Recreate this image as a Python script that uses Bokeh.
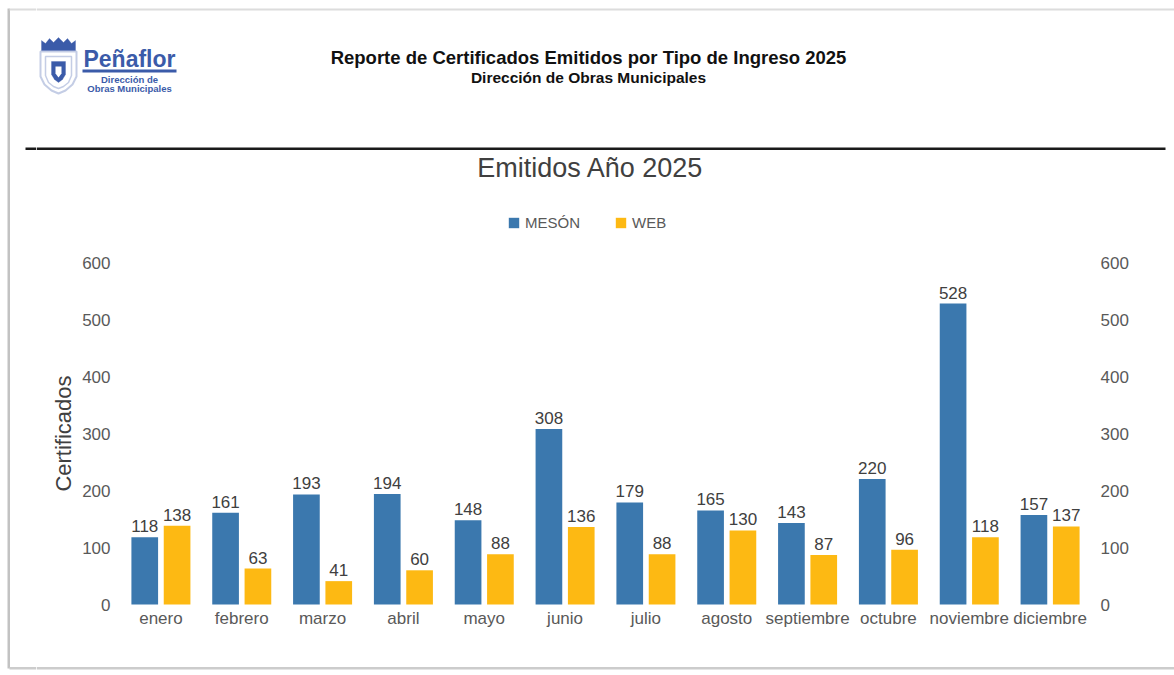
import math
from bokeh.plotting import figure
from bokeh.layouts import row
from bokeh.models import (ColumnDataSource, FactorRange, Range1d, LinearAxis, FixedTicker,
                          Legend, LegendItem, Label, BoxAnnotation, PolyAnnotation)
from bokeh.transform import dodge
from bokeh.core.properties import value
from bokeh.embed import file_html
from bokeh.resources import INLINE

# ---------------- data ----------------
months = ["enero", "febrero", "marzo", "abril", "mayo", "junio", "julio",
          "agosto", "septiembre", "octubre", "noviembre", "diciembre"]
meson = [118, 161, 193, 194, 148, 308, 179, 165, 143, 220, 528, 157]
web = [138, 63, 41, 60, 88, 136, 88, 130, 87, 96, 118, 137]
y_ticks = [0, 100, 200, 300, 400, 500, 600]
series_names = ["MESÓN", "WEB"]

header_title = "Reporte de Certificados Emitidos por Tipo de Ingreso 2025"
header_sub = "Dirección de Obras Municipales"
chart_title = "Emitidos Año 2025"
y_label = "Certificados"

BLUE = "#3b78ae"
YELLOW = "#fdb913"
LOGO = "#3b5ba9"
FONT = "Liberation Sans"

# ---------------- page geometry (pixels) ----------------
W, H = 1174, 675
STRIP = 36                       # left strip figure width
PLOT_L, PLOT_R = 120, 1090       # category band extent
PLOT_T, PLOT_B = 262, 604        # value axis: 600 at top, 0 at bottom
YMAX = 600

px_per_unit = (PLOT_B - PLOT_T) / YMAX
y_start = -(H - PLOT_B) / px_per_unit
y_end = PLOT_B / px_per_unit
pad_px = PLOT_L - STRIP
band = (PLOT_R - PLOT_L) / len(months)
range_pad = 2 * (pad_px / band) / len(months)


def blank(width, height, x0, x1, y0, y1):
    f = figure(width=width, height=height, x_range=Range1d(x0, x1),
               y_range=Range1d(y1, y0), x_axis_type=None, y_axis_type=None,
               output_backend="svg", toolbar_location=None, min_border=0,
               title=None)
    f.outline_line_color = None
    f.background_fill_color = "white"
    f.border_fill_color = "white"
    return f


# ---------------- left strip (page border) ----------------
strip = blank(STRIP, H, 0, STRIP, 0, H)
strip.quad(left=7, right=9.5, top=8, bottom=668, fill_color="#c2c2c2", line_color=None)
strip.quad(left=9, right=STRIP, top=8, bottom=10, fill_color="#dcdcdc", line_color=None)
strip.quad(left=9, right=STRIP, top=666.5, bottom=669, fill_color="#cccccc", line_color=None)
strip.quad(left=25, right=STRIP, top=147, bottom=149.5, fill_color="#1a1a1a", line_color=None)

# ---------------- main figure ----------------
src = ColumnDataSource(dict(
    months=months,
    meson=meson,
    web=web,
    meson_txt=[str(v) for v in meson],
    web_txt=[str(v) for v in web],
))

p = figure(x_range=FactorRange(factors=months, range_padding=range_pad,
                               range_padding_units="percent"),
           y_range=Range1d(y_start, y_end),
           width=W - STRIP, height=H, output_backend="svg", toolbar_location=None,
           min_border=0, title=None)
p.outline_line_color = None
p.xgrid.visible = False
p.ygrid.visible = False
p.background_fill_color = "white"
p.border_fill_color = "white"

r1 = p.vbar(x=dodge("months", -0.2, range=p.x_range), top="meson", width=0.33,
            source=src, fill_color=BLUE, line_color=None)
r2 = p.vbar(x=dodge("months", 0.2, range=p.x_range), top="web", width=0.33,
            source=src, fill_color=YELLOW, line_color=None)

for col, off in (("meson", -0.2), ("web", 0.2)):
    p.text(x=dodge("months", off, range=p.x_range), y=col,
           text=col + "_txt", source=src, text_font=value(FONT), text_font_size="17px",
           text_align="center", text_baseline="bottom", y_offset=-5,
           text_color="#404040")


def style_axis(ax):
    ax.axis_line_color = None
    ax.major_tick_line_color = None
    ax.minor_tick_line_color = None
    ax.major_tick_out = 0
    ax.major_tick_in = 0
    ax.minor_tick_out = 0
    ax.major_label_text_font = FONT
    ax.major_label_text_font_size = "17px"
    ax.major_label_text_color = "#595959"


xa = p.xaxis[0]
style_axis(xa)
xa.fixed_location = 0
xa.major_label_standoff = 4

ya = p.yaxis[0]
style_axis(ya)
ya.fixed_location = 0
ya.ticker = FixedTicker(ticks=y_ticks)
ya.major_label_standoff = 10

yr = LinearAxis(ticker=FixedTicker(ticks=y_ticks), fixed_location=len(months))
style_axis(yr)
yr.major_label_standoff = 10
p.add_layout(yr, "right")

# legend
legend = Legend(items=[LegendItem(label=series_names[0], renderers=[r1]),
                       LegendItem(label=series_names[1], renderers=[r2])],
                location=(507 - STRIP, H - 231), orientation="horizontal",
                glyph_width=13, glyph_height=13, label_standoff=5, spacing=34,
                padding=0, margin=0, label_height=13,
                label_text_font=FONT, label_text_font_size="15px",
                label_text_color="#595959", border_line_color=None,
                background_fill_alpha=0)
p.add_layout(legend)


# ---------------- header decorations (screen units, frame = whole figure) ----------------
def X(px):
    return px - STRIP


def Y(py):
    return H - py


def lab(x, y, text, size, style="normal", color="#1a1a1a", align="center", angle=0.0):
    p.add_layout(Label(x=X(x), y=Y(y), x_units="screen", y_units="screen",
                       text=text, text_font=FONT, text_font_size=size,
                       text_font_style=style, text_color=color, angle=angle,
                       text_align=align, text_baseline="middle"))


def box(l, r, t, b, color):
    p.add_layout(BoxAnnotation(left=X(l), right=X(r), top=Y(t), bottom=Y(b),
                               left_units="screen", right_units="screen",
                               top_units="screen", bottom_units="screen",
                               fill_color=color, fill_alpha=1, line_color=None))


def poly(pts, **kw):
    p.add_layout(PolyAnnotation(xs=[X(a) for a, b in pts], ys=[Y(b) for a, b in pts],
                                xs_units="screen", ys_units="screen", **kw))


# value-axis title
lab(63, 433, y_label, "22px", "normal", "#404040", angle=math.pi / 2)

# page border
box(STRIP, W, 8, 10, "#dcdcdc")
box(STRIP, W, 666.5, 669, "#cccccc")

lab(588, 57, header_title, "18.5px", "bold", "#111111")
lab(588, 77, header_sub, "15.5px", "bold", "#111111")
lab(590, 167, chart_title, "27px", "normal", "#404040")

# logo
lab(129, 58, "Peñaflor", "23px", "bold", LOGO)
lab(129, 79, "Dirección de", "9.5px", "bold", LOGO)
lab(129, 87.5, "Obras Municipales", "9.5px", "bold", LOGO)
box(82, 176, 69, 72, LOGO)

poly([(41, 50), (41, 40), (45, 43), (49, 38), (53, 42), (58, 37), (63, 42),
      (67, 38), (71, 43), (75, 40), (75, 50)],
     fill_color=LOGO, fill_alpha=1, line_color=LOGO, line_width=1)
poly([(40, 51), (76, 51), (76, 76), (72, 84), (65, 90), (58, 93), (51, 90),
      (44, 84), (40, 76)],
     fill_color="white", fill_alpha=1, line_color=LOGO, line_width=2)
poly([(45, 56), (71, 56), (71, 75), (68, 82), (63, 86), (58, 88), (53, 86),
      (48, 82), (45, 75)],
     fill_alpha=0, line_color=LOGO, line_width=1.5)
poly([(51, 61), (65, 61), (65, 74), (62, 79), (58, 82), (54, 79), (51, 74)],
     fill_color=LOGO, fill_alpha=1, line_color=LOGO, line_width=1)
poly([(55, 66), (61, 66), (61, 73), (58, 77), (55, 73)],
     fill_color="white", fill_alpha=1, line_color=None)

# horizontal rule
box(STRIP, 1165, 147, 149.5, "#1a1a1a")

layout = row(strip, p)
open("out.html", "w").write(file_html(layout, INLINE))
